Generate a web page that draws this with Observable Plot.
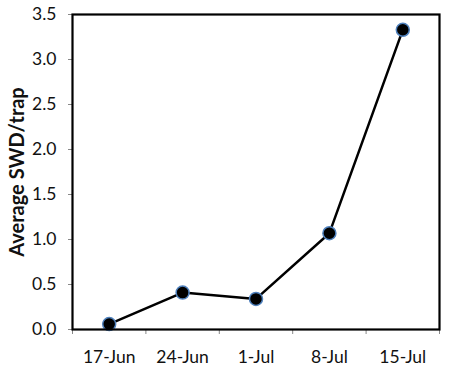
<!DOCTYPE html>
<html><head><meta charset="utf-8">
<script src="https://cdn.jsdelivr.net/npm/d3@7"></script>
<script src="https://cdn.jsdelivr.net/npm/@observablehq/plot@0.6"></script>
<style>body{margin:0;background:#fff;} svg{display:block;}</style>
</head><body><div id="chart"></div>
<script>
const dates = ["17-Jun", "24-Jun", "1-Jul", "8-Jul", "15-Jul"];
const swd = [0.06, 0.41, 0.34, 1.07, 3.33];
const yTicks = [0, 0.5, 1, 1.5, 2, 2.5, 3, 3.5];
const yLabel = "Average SWD/trap";

const data = dates.map((d, i) => ({i, date: d, v: swd[i]}));
const boundaries = d3.range(dates.length + 1).map(k => k - 0.5);

const chart = Plot.plot({
  width: 450, height: 372,
  marginLeft: 72, marginRight: 11, marginTop: 14, marginBottom: 43,
  style: {fontFamily: "Lato, sans-serif", fontSize: "17.5px", color: "#111", background: "#fff"},
  x: {type: "linear", domain: [-0.5, dates.length - 0.5]},
  y: {domain: [0, 3.5]},
  marks: [
    Plot.axisY({ticks: yTicks, tickFormat: d => d.toFixed(1), tickSize: 4, tickPadding: 12, label: null, stroke: "#888"}),
    Plot.axisX({ticks: boundaries, tickFormat: () => "", tickSize: 5, label: null, stroke: "#888"}),
    Plot.axisX({ticks: d3.range(dates.length), tickFormat: i => dates[i], tickSize: 0, tickPadding: 21, label: null}),
    Plot.text([yLabel], {frameAnchor: "left", textAnchor: "middle", text: d => d, rotate: -90, dx: -55, fontWeight: "bold", fontSize: 20}),
    Plot.line(data, {x: "i", y: "v", stroke: "#000", strokeWidth: 2.5}),
    Plot.dot(data, {x: "i", y: "v", r: 6.5, fill: "#000", stroke: "#4f81bd", strokeWidth: 1.5}),
    Plot.frame({stroke: "#000", strokeWidth: 2.2})
  ]
});
document.getElementById("chart").appendChild(chart);
</script></body></html>
